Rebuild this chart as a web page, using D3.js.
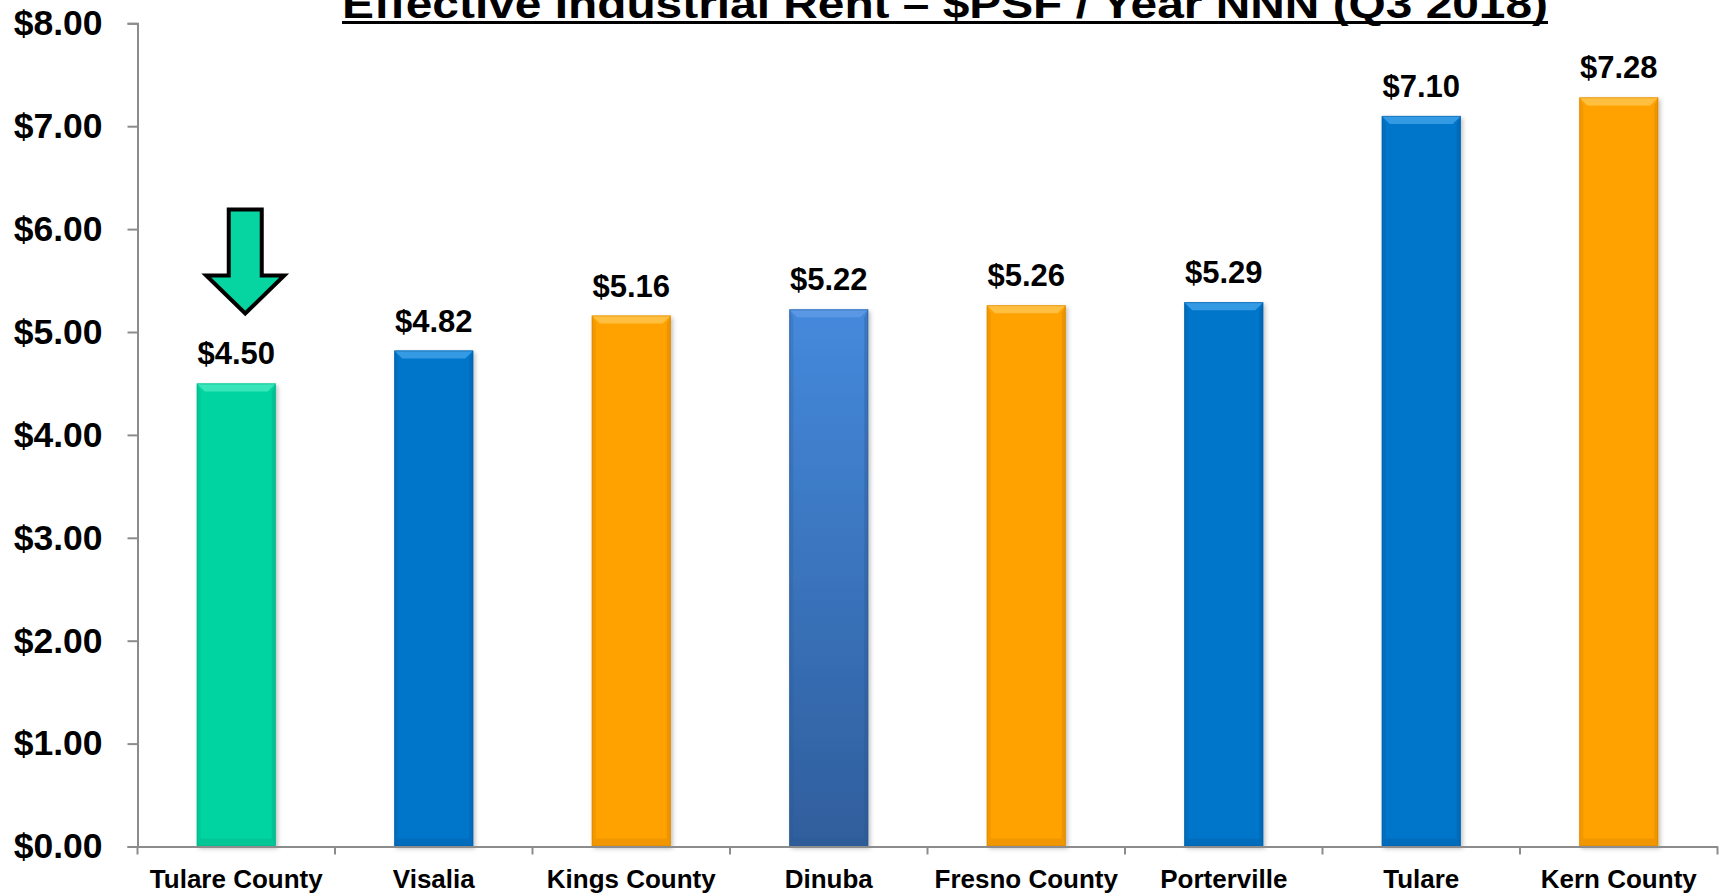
<!DOCTYPE html>
<html>
<head>
<meta charset="utf-8">
<script src="https://cdn.jsdelivr.net/npm/d3@7"></script>
<style>
  html, body { margin: 0; padding: 0; background: #fff; }
  svg { display: block; font-family: "Liberation Sans", Arial, sans-serif; }
</style>
</head>
<body>
<svg id="chart" width="1725" height="895"></svg>
<script>
// Effective industrial rent by market, $ per sq ft per year (NNN)
const categories = ["Tulare County", "Visalia", "Kings County", "Dinuba", "Fresno County", "Porterville", "Tulare", "Kern County"];
const rents = [4.50, 4.82, 5.16, 5.22, 5.26, 5.29, 7.10, 7.28];
const barStyles = ["teal", "blue", "orange", "steel", "orange", "blue", "blue", "orange"];
const yTickValues = [0, 1, 2, 3, 4, 5, 6, 7, 8];
const titleText = "Effective Industrial Rent \u2013 $PSF / Year NNN (Q3 2018)";
const highlighted = "Tulare County";

const palette = {
  teal:   { base: "#06d5a1", light: "#3ee8bd", dark: "#04a77e" },
  blue:   { base: "#0676ca", light: "#3a9ee6", dark: "#04579a" },
  orange: { base: "#ffa206", light: "#ffc247", dark: "#cc7f00" },
  steel:  { base: "#3c78c4", light: "#5c9ae6", dark: "#2a568f" }
};

const svg = d3.select("#chart");
const plot = { left: 137.5, right: 1717.5, top: 23.3, bottom: 846.5 };

const x = d3.scaleBand()
  .domain(categories)
  .range([plot.left, plot.right])
  .paddingInner(0.6)
  .paddingOuter(0.3);

const y = d3.scaleLinear()
  .domain([0, 8])
  .range([plot.bottom, plot.top]);

const defs = svg.append("defs");

// Vertical gradient used by the steel-blue bar
const steelGrad = defs.append("linearGradient")
  .attr("id", "steelGrad").attr("x1", 0).attr("y1", 0).attr("x2", 0).attr("y2", 1);
steelGrad.append("stop").attr("offset", "0%").attr("stop-color", "#4589dc");
steelGrad.append("stop").attr("offset", "100%").attr("stop-color", "#2f5e9c");

// Soft drop shadow under the bars
const shadow = defs.append("filter").attr("id", "barShadow")
  .attr("x", "-20%").attr("y", "-5%").attr("width", "150%").attr("height", "115%");
shadow.append("feDropShadow").attr("dx", 2).attr("dy", 2).attr("stdDeviation", 2)
  .attr("flood-color", "#000").attr("flood-opacity", 0.25);

// Title with underline
svg.append("text")
  .attr("x", 945).attr("y", 18)
  .attr("text-anchor", "middle")
  .attr("font-size", 40).attr("font-weight", "bold")
  .attr("fill", "#000")
  .attr("textLength", 1206)
  .attr("lengthAdjust", "spacingAndGlyphs")
  .text(titleText);
svg.append("line")
  .attr("x1", 342).attr("x2", 1548).attr("y1", 22.5).attr("y2", 22.5)
  .attr("stroke", "#000").attr("stroke-width", 3);

// Y axis
const yAxis = d3.axisLeft(y)
  .tickValues(yTickValues)
  .tickSize(10)
  .tickPadding(25)
  .tickFormat(d3.format("$.2f"));

const gy = svg.append("g")
  .attr("transform", `translate(${plot.left},0)`)
  .call(yAxis);
gy.select(".domain").attr("stroke", "#8c8c8c").attr("stroke-width", 2);
gy.selectAll(".tick line").attr("stroke", "#8c8c8c").attr("stroke-width", 2);
gy.selectAll(".tick text")
  .attr("font-size", 35.5).attr("font-weight", "bold").attr("fill", "#000")
  .attr("font-family", "Liberation Sans, Arial, sans-serif");

// Bars
const bars = svg.append("g").selectAll("g.bar")
  .data(categories.map((c, i) => ({ cat: c, value: rents[i], style: barStyles[i] })))
  .join("g").attr("class", "bar");

const bev = 8;
bars.each(function(d) {
  const g = d3.select(this);
  const x0 = x(d.cat), x1 = x0 + x.bandwidth();
  const y0 = y(d.value), y1 = y(0);
  const p = palette[d.style];
  g.append("rect")
    .attr("x", x0).attr("y", y0)
    .attr("width", x.bandwidth()).attr("height", y1 - y0)
    .attr("fill", d.style === "steel" ? "url(#steelGrad)" : p.base)
    .attr("filter", "url(#barShadow)");
  // top bevel
  g.append("polygon")
    .attr("points", [[x0, y0], [x1, y0], [x1 - bev, y0 + bev], [x0 + bev, y0 + bev]].join(" "))
    .attr("fill", p.light).attr("opacity", 0.9);
  // left and right edges
  g.append("polygon")
    .attr("points", [[x0, y0], [x0 + bev * 0.5, y0 + bev], [x0 + bev * 0.5, y1 - bev], [x0, y1]].join(" "))
    .attr("fill", p.dark).attr("opacity", 0.25);
  g.append("polygon")
    .attr("points", [[x1, y0], [x1 - bev * 0.5, y0 + bev], [x1 - bev * 0.5, y1 - bev], [x1, y1]].join(" "))
    .attr("fill", p.dark).attr("opacity", 0.35);
  // bottom bevel
  g.append("polygon")
    .attr("points", [[x0, y1], [x1, y1], [x1 - bev * 0.5, y1 - bev], [x0 + bev * 0.5, y1 - bev]].join(" "))
    .attr("fill", p.dark).attr("opacity", 0.3);
  // outline
  g.append("rect")
    .attr("x", x0 + 0.5).attr("y", y0 + 0.5)
    .attr("width", x.bandwidth() - 1).attr("height", y1 - y0 - 1)
    .attr("fill", "none").attr("stroke", p.dark).attr("stroke-opacity", 0.45).attr("stroke-width", 1);
});

// Value labels
svg.append("g").selectAll("text")
  .data(categories.map((c, i) => ({ cat: c, value: rents[i] })))
  .join("text")
  .attr("x", d => x(d.cat) + x.bandwidth() / 2)
  .attr("y", d => y(d.value) - 19)
  .attr("text-anchor", "middle")
  .attr("font-size", 31).attr("font-weight", "bold").attr("fill", "#000")
  .text(d => d3.format("$.2f")(d.value));

// X axis: baseline, boundary ticks and category labels
const xAxis = d3.axisBottom(x).tickSize(0).tickPadding(0);
const gx = svg.append("g")
  .attr("transform", `translate(0,${plot.bottom})`)
  .call(xAxis);
gx.select(".domain").attr("stroke", "#8c8c8c").attr("stroke-width", 2);
gx.selectAll(".tick text")
  .attr("y", 41.5).attr("dy", null)
  .attr("font-size", 26).attr("font-weight", "bold").attr("fill", "#000")
  .attr("font-family", "Liberation Sans, Arial, sans-serif");

const boundaries = d3.range(categories.length + 1).map(i => plot.left + i * x.step());
gx.selectAll("line.boundary")
  .data(boundaries)
  .join("line").attr("class", "boundary")
  .attr("x1", d => d).attr("x2", d => d)
  .attr("y1", 0).attr("y2", 8)
  .attr("stroke", "#8c8c8c").attr("stroke-width", 2);

// Down arrow pointing at the highlighted market
const cx = x(highlighted) + x.bandwidth() / 2 + 9;
const tipY = y(rents[categories.indexOf(highlighted)]) - 70;
const shaftW = 33, headW = 78, headH = 38, shaftH = 66;
const arrowPts = [
  [cx - shaftW / 2, tipY - headH - shaftH],
  [cx + shaftW / 2, tipY - headH - shaftH],
  [cx + shaftW / 2, tipY - headH],
  [cx + headW / 2, tipY - headH],
  [cx, tipY],
  [cx - headW / 2, tipY - headH],
  [cx - shaftW / 2, tipY - headH]
];
svg.append("polygon")
  .attr("points", arrowPts.join(" "))
  .attr("fill", palette.teal.base)
  .attr("stroke", "#000").attr("stroke-width", 4)
  .attr("stroke-linejoin", "miter");
</script>
</body>
</html>
